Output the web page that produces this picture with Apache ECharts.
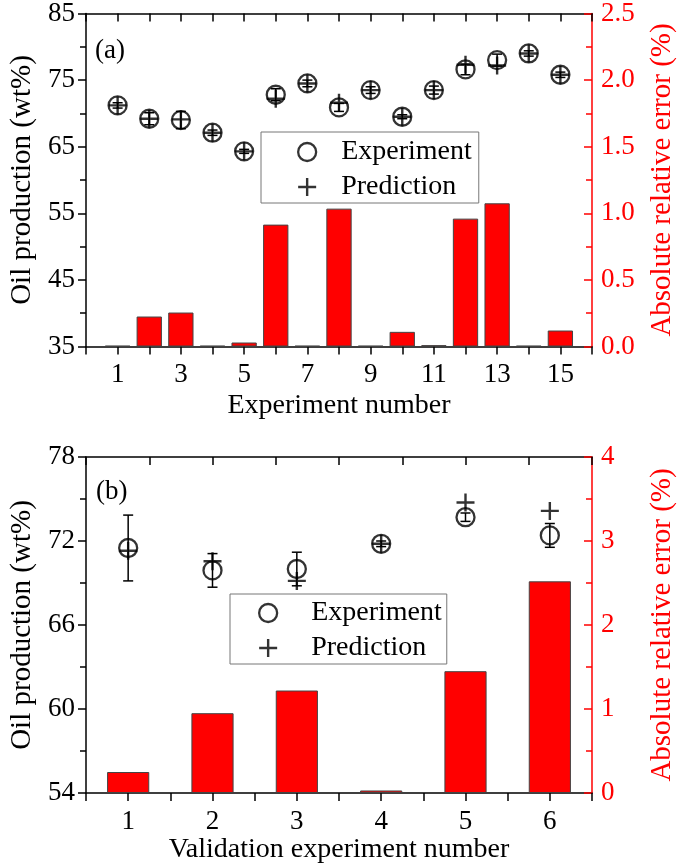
<!DOCTYPE html>
<html>
<head>
<meta charset="utf-8">
<script src="https://cdn.jsdelivr.net/npm/echarts@6/dist/echarts.min.js"></script>
<style>
html,body{margin:0;padding:0;background:#fff;}
#c{width:685px;height:865px;}
</style>
</head>
<body>
<div id="c"></div>
<script>
// ---------- Panel (a) data ----------
const expNoA = [1, 2, 3, 4, 5, 6, 7, 8, 9, 10, 11, 12, 13, 14, 15];
const experimentA = [71.2, 69.2, 69.0, 67.1, 64.3, 72.8, 74.5, 70.9, 73.5, 69.5, 73.5, 76.6, 78.0, 79.0, 75.8];
const predictionA = [71.2, 69.2, 69.1, 67.1, 64.3, 72.2, 74.5, 71.6, 73.5, 69.5, 73.5, 77.3, 77.2, 79.0, 75.8];
const expErrorA = [0.4, 0.9, 1.3, 0.4, 0.3, 0.9, 0.5, 0.6, 0.5, 0.3, 0.6, 0.8, 0.9, 0.4, 0.4];
const relErrorA = [0.005, 0.225, 0.255, 0.005, 0.03, 0.915, 0.005, 1.035, 0.005, 0.11, 0.01, 0.96, 1.075, 0.005, 0.12];

// ---------- Panel (b) data ----------
const expNoB = [1, 2, 3, 4, 5, 6];
const experimentB = [71.5, 69.9, 70.0, 71.8, 73.7, 72.4];
const predictionB = [71.3, 70.55, 69.15, 71.8, 74.75, 74.15];
const expErrorB = [2.35, 1.2, 1.2, 0.2, 0.3, 0.85];
const relErrorB = [0.25, 0.95, 1.22, 0.03, 1.45, 2.52];

// ---------- Axis ticks ----------
const leftTicksA = {min: 35, max: 85, interval: 10};
const rightTicksA = {min: 0, max: 2.5, interval: 0.5};
const leftTicksB = {min: 54, max: 78, interval: 6};
const rightTicksB = {min: 0, max: 4, interval: 1};

const FONT = "'Liberation Serif', 'Times New Roman', serif";
const RED = '#ff0000';
const PLUS = 'path://M-1.2,-9 L1.2,-9 L1.2,9 L-1.2,9 Z M-9,-1.2 L9,-1.2 L9,1.2 L-9,1.2 Z';

function pairs(xs, ys) { return xs.map((x, i) => [x, ys[i]]); }
function triples(xs, ys, es) { return xs.map((x, i) => [x, ys[i], es[i]]); }

function errRender(params, api) {
  const x = api.value(0), y = api.value(1), e = api.value(2);
  const p1 = api.coord([x, y + e]);
  const p2 = api.coord([x, y - e]);
  const w = 5;
  const st = {stroke: '#000', lineWidth: 1.5, fill: null};
  return {
    type: 'group',
    children: [
      {type: 'line', shape: {x1: p1[0], y1: p1[1], x2: p2[0], y2: p2[1]}, style: st},
      {type: 'line', shape: {x1: p1[0] - w, y1: p1[1], x2: p1[0] + w, y2: p1[1]}, style: st},
      {type: 'line', shape: {x1: p2[0] - w, y1: p2[1], x2: p2[0] + w, y2: p2[1]}, style: st}
    ]
  };
}

const axisLineBlack = {show: true, onZero: false, lineStyle: {color: '#000', width: 1.5}};
const axisLineRed = {show: true, onZero: false, lineStyle: {color: RED, width: 1.5}};
const tickLabelStyle = {fontFamily: FONT, fontSize: 27, color: '#000'};

function xBottom(gridIndex, min, max, interval, name, gap, fmt) {
  return {
    type: 'value', gridIndex, position: 'bottom', min, max, interval,
    axisLine: axisLineBlack,
    axisTick: {show: true, inside: false, length: 8, lineStyle: {color: '#000', width: 1.5}},
    axisLabel: Object.assign({margin: 15, formatter: fmt, showMinLabel: true, showMaxLabel: true}, tickLabelStyle),
    splitLine: {show: false},
    name, nameLocation: 'middle', nameGap: gap,
    nameTextStyle: {fontFamily: FONT, fontSize: 28, color: '#000'}
  };
}
function xTop(gridIndex, min, max, interval) {
  return {
    type: 'value', gridIndex, position: 'top', min, max, interval,
    axisLine: axisLineBlack,
    axisTick: {show: true, inside: true, length: 8, lineStyle: {color: '#000', width: 1.5}},
    axisLabel: {show: false},
    splitLine: {show: false}
  };
}
function yLeft(gridIndex, t, name) {
  return {
    type: 'value', gridIndex, position: 'left', min: t.min, max: t.max, interval: t.interval,
    axisLine: axisLineBlack,
    axisTick: {show: true, inside: false, length: 8, lineStyle: {color: '#000', width: 1.5}},
    minorTick: {show: true, splitNumber: 2, length: 6, lineStyle: {color: '#000', width: 1.5}},
    axisLabel: Object.assign({margin: 11}, tickLabelStyle),
    splitLine: {show: false}, minorSplitLine: {show: false},
    name, nameLocation: 'middle', nameGap: 49,
    nameTextStyle: {fontFamily: FONT, fontSize: 29, color: '#000'}
  };
}
function yRight(gridIndex, t, name, fmt) {
  return {
    type: 'value', gridIndex, position: 'right', min: t.min, max: t.max, interval: t.interval,
    axisLine: axisLineRed,
    axisTick: {show: true, inside: true, length: 8, lineStyle: {color: RED, width: 1.5}},
    minorTick: {show: true, splitNumber: 2, length: 6, lineStyle: {color: RED, width: 1.5}},
    axisLabel: {margin: 9, formatter: fmt, fontFamily: FONT, fontSize: 27, color: RED},
    splitLine: {show: false}, minorSplitLine: {show: false},
    name, nameLocation: 'middle', nameGap: 56,
    nameTextStyle: {fontFamily: FONT, fontSize: 29, color: RED}
  };
}

const expStyle = {color: 'rgba(0,0,0,0)', borderColor: '#000', borderWidth: 2.3};
const predStyle = {color: '#000', borderWidth: 0};
const barStyle = {color: RED, borderColor: '#444', borderWidth: 1};

function legendFor(left, top, padding, textPadLeft) {
  return {
    show: true, orient: 'vertical', left, top, padding,
    itemWidth: 18, itemHeight: 18, itemGap: 7,
    borderColor: '#777', borderWidth: 1, backgroundColor: '#fff',
    selectedMode: false,
    textStyle: {fontFamily: FONT, fontSize: 28, color: '#000', padding: [0, 0, 0, textPadLeft]},
    data: [
      {name: 'Experiment', icon: 'circle', itemStyle: expStyle},
      {name: 'Prediction', icon: PLUS, itemStyle: predStyle}
    ]
  };
}

const option = {
  animation: false,
  backgroundColor: '#fff',
  title: [
    {text: '(a)', left: 95, top: 37, padding: 0, textStyle: {fontFamily: FONT, fontSize: 27, fontWeight: 'normal', color: '#000'}},
    {text: '(b)', left: 96, top: 478, padding: 0, textStyle: {fontFamily: FONT, fontSize: 27, fontWeight: 'normal', color: '#000'}}
  ],
  grid: [
    {left: 70, top: 12.5, width: 533, height: 334},
    {left: 72, top: 457, width: 532, height: 336}
  ],
  legend: [
    legendFor(261, 132, [6, 7, 2, 36], 20),
    legendFor(230, 594, [5, 5, 2, 28], 29)
  ],
  xAxis: [
    xBottom(0, 0, 16, 1, 'Experiment number', 45, v => (v % 2 === 1 ? String(v) : '')),
    xTop(0, 0, 16, 1),
    xBottom(1, 0.5, 6.5, 0.5, 'Validation experiment number', 38, v => (Number.isInteger(v) ? String(v) : '')),
    xTop(1, 0.5, 6.5, 0.75)
  ],
  yAxis: [
    yLeft(0, leftTicksA, 'Oil production (wt%)'),
    yRight(0, rightTicksA, 'Absolute relative error (%)', v => v.toFixed(1)),
    yLeft(1, leftTicksB, 'Oil production (wt%)'),
    yRight(1, rightTicksB, 'Absolute relative error (%)', v => String(v))
  ],
  series: [
    // panel a
    {name: 'RelErrA', type: 'bar', xAxisIndex: 0, yAxisIndex: 1, data: pairs(expNoA, relErrorA), barWidth: '80%', itemStyle: barStyle, z: 1},
    {name: 'ErrA', type: 'custom', xAxisIndex: 0, yAxisIndex: 0, renderItem: errRender, encode: {x: 0, y: 1}, data: triples(expNoA, experimentA, expErrorA), z: 3},
    {name: 'Experiment', type: 'scatter', xAxisIndex: 0, yAxisIndex: 0, symbol: 'circle', symbolSize: 18, itemStyle: expStyle, data: pairs(expNoA, experimentA), z: 4},
    {name: 'Prediction', type: 'scatter', xAxisIndex: 0, yAxisIndex: 0, symbol: PLUS, symbolSize: 18, symbolKeepAspect: true, itemStyle: predStyle, data: pairs(expNoA, predictionA), z: 5},
    // panel b
    {name: 'RelErrB', type: 'bar', xAxisIndex: 2, yAxisIndex: 3, data: pairs(expNoB, relErrorB), barWidth: '50%', itemStyle: barStyle, z: 1},
    {name: 'ErrB', type: 'custom', xAxisIndex: 2, yAxisIndex: 2, renderItem: errRender, encode: {x: 0, y: 1}, data: triples(expNoB, experimentB, expErrorB), z: 3},
    {name: 'Experiment', type: 'scatter', xAxisIndex: 2, yAxisIndex: 2, symbol: 'circle', symbolSize: 18, itemStyle: expStyle, data: pairs(expNoB, experimentB), z: 4},
    {name: 'Prediction', type: 'scatter', xAxisIndex: 2, yAxisIndex: 2, symbol: PLUS, symbolSize: 18, symbolKeepAspect: true, itemStyle: predStyle, data: pairs(expNoB, predictionB), z: 5}
  ]
};

const chart = echarts.init(document.getElementById('c'), null, {renderer: 'canvas'});
chart.setOption(option);
</script>
</body>
</html>
